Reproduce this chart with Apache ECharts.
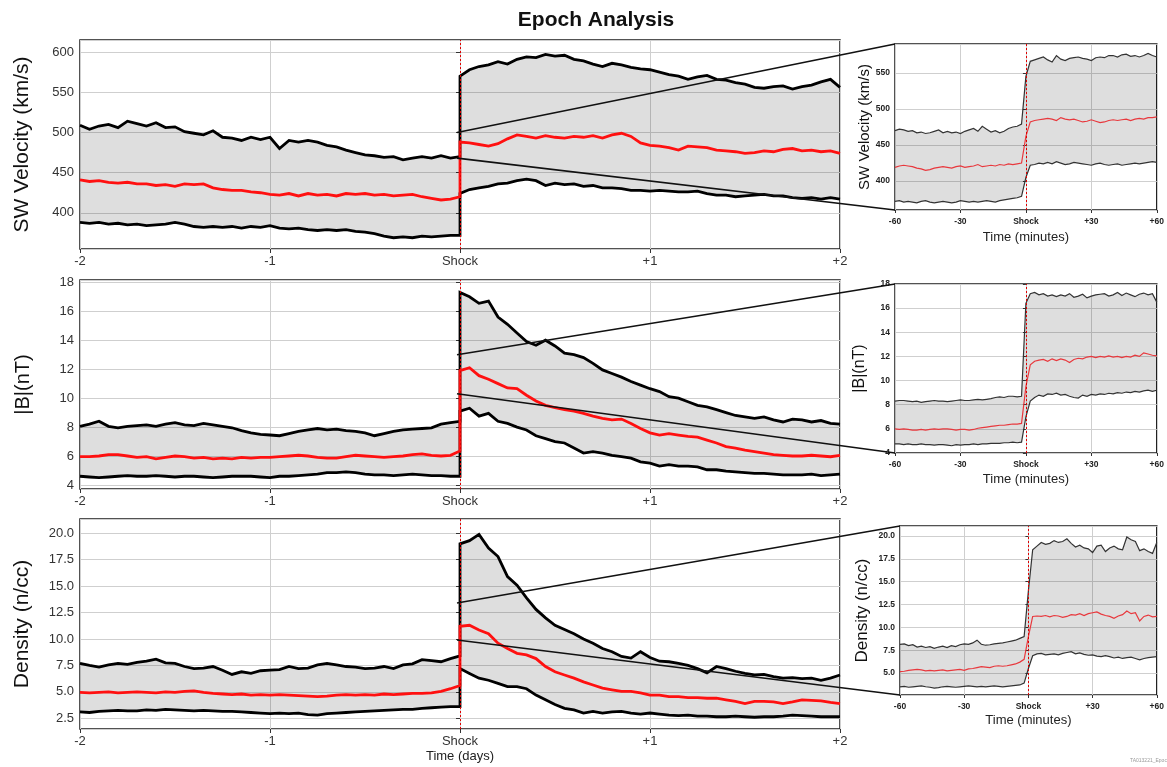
<!DOCTYPE html>
<html>
<head>
<meta charset="utf-8">
<script src="https://cdn.jsdelivr.net/npm/echarts@6/dist/echarts.min.js"></script>
<style>
html,body{margin:0;padding:0;background:#fff;}
#c{width:1167px;height:767px;}
</style>
</head>
<body>
<div id="c"></div>
<script>
// ---------------- DATA ----------------
// Main panels: days from -2 to 0 (pre) and 0 to +2 (post), step 0.05 day
const dayTickLabels = ['-2', '-1', 'Shock', '+1', '+2'];
const minuteTickLabels = ['-60', '-30', 'Shock', '+30', '+60'];

const velUpperPre = [509,504,508,510,506,514,511,508,512,506,507,501,499,497,502,494,493,490,494,491,494,480,490,488,490,488,484,482,478,475,472,471,469,470,466,468,470,468,471,468,470];
const velMedianPre = [441,439,440,438,437,438,436,436,434,435,433,436,435,436,431,429,428,428,426,425,423,422,424,421,424,422,423,421,424,423,424,422,423,421,422,423,420,418,416,417,420];
const velLowerPre = [388,387,388,386,387,385,386,384,385,386,388,386,383,382,383,382,383,381,383,382,384,381,380,381,379,378,379,378,379,377,376,374,371,369,370,369,371,370,371,372,372];
const velUpperPost = [570,578,582,584,588,585,591,594,593,597,595,596,591,589,585,582,586,584,581,579,578,575,572,570,566,569,571,566,565,562,560,556,555,557,558,554,557,559,563,566,556];
const velMedianPost = [488,487,485,483,486,492,497,495,493,496,494,493,495,494,496,493,497,499,495,487,484,483,481,478,483,482,481,478,477,476,474,475,477,476,479,480,477,478,476,477,474];
const velLowerPost = [424,429,431,433,436,437,440,442,440,434,437,435,436,433,434,431,431,430,428,428,427,428,427,426,426,427,424,422,422,420,421,422,423,421,421,419,418,419,417,419,417];

const bUpperPre = [8.05,8.2,8.4,8.05,7.95,8.05,8.1,8.15,8.05,8.2,8.3,8.15,8.1,8.25,8.15,8.05,7.95,7.75,7.6,7.5,7.45,7.4,7.55,7.7,7.8,7.9,7.8,7.85,7.75,7.7,7.6,7.4,7.55,7.7,7.8,7.85,7.9,7.95,8.2,8.3,8.4];
const bMedianPre = [5.95,5.95,6.0,6.1,6.1,6.0,5.9,5.95,5.8,5.9,6.0,5.95,5.85,5.9,5.8,5.85,5.8,5.9,5.85,5.9,5.9,5.95,6.0,6.05,6.0,5.9,5.85,5.85,5.95,6.05,6.0,5.95,5.9,5.95,6.0,6.1,6.15,6.05,6.0,6.05,6.35];
const bLowerPre = [4.6,4.55,4.5,4.55,4.6,4.65,4.6,4.6,4.65,4.6,4.55,4.6,4.6,4.55,4.5,4.55,4.6,4.6,4.6,4.55,4.5,4.6,4.6,4.65,4.7,4.75,4.85,4.85,4.9,4.85,4.75,4.7,4.7,4.65,4.7,4.75,4.7,4.65,4.65,4.6,4.6];
const bUpperPost = [17.3,17.0,16.55,16.7,15.6,15.1,14.5,13.9,13.65,14.0,13.6,13.1,13.0,12.8,12.4,11.95,11.7,11.45,11.15,10.9,10.65,10.45,10.1,10.0,9.75,9.5,9.4,9.2,9.0,8.8,8.7,8.6,8.7,8.5,8.35,8.55,8.5,8.35,8.45,8.25,8.2];
const bMedianPost = [11.9,12.1,11.55,11.3,11.0,10.7,10.65,10.2,9.8,9.5,9.35,9.2,9.1,8.95,8.75,8.6,8.5,8.55,8.25,7.9,7.6,7.45,7.55,7.45,7.35,7.3,7.1,6.9,6.65,6.55,6.4,6.3,6.2,6.1,6.05,6.0,6.0,6.05,6.0,5.95,6.05];
const bLowerPost = [9.1,9.3,8.75,8.95,8.4,8.25,8.0,7.8,7.4,7.2,7.0,6.9,6.55,6.2,6.3,6.2,6.05,5.95,5.85,5.6,5.5,5.3,5.4,5.3,5.3,5.25,5.05,5.05,4.95,4.9,4.85,4.8,4.8,4.75,4.7,4.7,4.7,4.75,4.65,4.7,4.75];

const nUpperPre = [7.7,7.5,7.35,7.55,7.7,7.6,7.8,7.9,8.1,7.75,7.7,7.4,7.2,7.25,7.4,7.05,6.65,6.9,6.75,7.0,7.05,7.1,7.4,7.2,7.25,7.55,7.7,7.55,7.4,7.35,7.2,7.25,7.4,7.2,7.55,7.65,8.05,7.95,7.85,8.15,8.4];
const nMedianPre = [4.95,4.9,4.95,5.0,4.9,4.95,5.0,4.95,4.9,5.0,4.95,5.05,5.1,4.95,4.85,4.8,4.75,4.8,4.7,4.75,4.7,4.75,4.7,4.65,4.6,4.55,4.6,4.7,4.75,4.7,4.75,4.7,4.8,4.75,4.8,4.85,4.85,4.9,5.05,5.3,5.6];
const nLowerPre = [3.1,3.05,3.15,3.2,3.25,3.2,3.2,3.3,3.25,3.35,3.3,3.25,3.2,3.25,3.2,3.15,3.15,3.1,3.05,3.0,2.95,3.0,2.95,3.0,2.85,2.8,2.95,3.0,3.05,3.1,3.15,3.2,3.25,3.3,3.35,3.35,3.45,3.5,3.55,3.6,3.6];
const nUpperPost = [19.0,19.3,19.9,18.6,17.8,15.9,15.1,13.9,12.8,12.0,11.3,10.9,10.5,10.0,9.6,9.1,8.8,8.35,8.2,8.8,8.25,7.9,7.85,7.7,7.5,7.2,6.8,7.4,7.2,6.95,6.75,6.6,6.65,6.45,6.3,6.35,6.25,6.3,6.1,6.3,6.6];
const nMedianPost = [11.2,11.3,10.85,10.5,9.6,9.1,8.65,8.5,8.15,7.4,6.9,6.6,6.3,5.95,5.65,5.35,5.2,5.05,5.05,4.9,4.7,4.7,4.55,4.55,4.45,4.45,4.4,4.4,4.25,4.1,3.9,4.1,4.1,4.05,3.9,4.05,4.25,4.2,4.15,4.0,3.9];
const nLowerPost = [7.2,6.75,6.3,6.1,5.8,5.5,5.5,5.3,4.7,4.25,3.8,3.45,3.3,3.0,3.15,3.0,3.1,3.15,3.0,2.9,3.0,2.9,2.8,2.75,2.8,2.7,2.7,2.65,2.65,2.7,2.65,2.6,2.65,2.65,2.7,2.8,2.75,2.7,2.65,2.65,2.65];

// Insets: minutes -60..-2 (pre, step 2) and 0..60 (post, step 2)
const iVelUpperPre = [470,472,471,469,470,467,468,466,467,469,471,467,469,467,468,466,469,471,473,469,476,472,468,470,467,469,473,475,476,479];
const iVelUpperPost = [545,566,568,570,572,568,565,574,569,567,570,571,572,570,569,567,571,572,571,574,574,572,575,576,573,574,572,574,577,574,572];
const iVelMedianPre = [419,421,422,421,420,418,417,415,416,418,419,420,419,418,420,421,419,420,421,423,420,421,422,421,423,422,424,423,424,425];
const iVelMedianPost = [462,482,484,485,486,487,486,484,488,486,485,486,484,482,483,485,483,481,482,484,485,484,485,486,484,486,487,486,488,488,489];
const iVelLowerPre = [372,373,371,372,371,370,372,373,371,370,371,372,371,370,371,373,372,371,372,371,372,373,372,371,373,374,375,376,377,379];
const iVelLowerPost = [405,422,423,425,424,426,424,427,425,423,424,426,425,424,423,422,424,425,423,422,423,424,422,423,424,425,424,425,426,427,426];

const iBUpperPre = [8.3,8.35,8.35,8.3,8.25,8.3,8.2,8.25,8.3,8.35,8.3,8.3,8.25,8.3,8.35,8.4,8.35,8.35,8.4,8.45,8.4,8.45,8.5,8.6,8.65,8.6,8.7,8.7,8.65,8.7];
const iBUpperPost = [16.4,17.2,17.3,17.1,17.2,17.0,17.1,16.95,17.1,17.0,17.2,16.9,17.0,17.15,16.85,17.0,17.1,17.15,17.2,17.0,17.1,17.3,17.05,17.25,17.1,16.95,17.15,17.25,17.1,17.2,16.5];
const iBMedianPre = [6.0,5.95,6.0,5.95,5.9,5.9,5.95,5.9,5.95,6.0,5.95,6.0,6.0,5.95,5.9,5.95,5.95,5.9,5.95,6.05,6.1,6.15,6.2,6.25,6.3,6.3,6.35,6.4,6.4,6.45];
const iBMedianPost = [9.5,11.3,11.6,11.7,11.75,11.6,11.8,11.65,11.8,11.7,11.5,11.75,11.85,11.8,11.95,12.0,11.9,12.0,11.95,12.05,11.95,12.0,11.9,12.0,11.95,12.1,12.0,12.3,12.2,12.1,12.05];
const iBLowerPre = [4.75,4.75,4.7,4.75,4.7,4.7,4.75,4.7,4.7,4.65,4.7,4.7,4.65,4.6,4.7,4.65,4.7,4.7,4.75,4.7,4.75,4.75,4.8,4.8,4.8,4.85,4.85,4.9,4.85,4.9];
const iBLowerPost = [7.0,8.3,8.6,8.8,8.7,8.9,8.85,8.95,8.8,8.85,8.7,8.6,8.55,8.8,8.7,8.85,8.8,8.9,8.85,8.95,8.9,9.0,8.95,9.05,9.0,9.1,9.05,9.15,9.2,9.1,9.2];

const iNUpperPre = [8.15,8.2,8.0,8.1,7.85,7.95,7.8,7.9,7.7,7.85,7.95,7.8,8.0,7.9,8.1,8.2,8.15,8.3,8.6,8.15,8.05,8.1,8.2,8.25,8.3,8.4,8.5,8.6,8.8,9.0];
const iNUpperPost = [14.0,18.5,18.9,19.3,19.1,19.2,19.5,19.3,19.4,19.7,19.2,18.8,19.0,18.7,18.6,18.2,18.9,19.0,18.3,18.7,18.9,18.6,18.5,19.9,19.6,19.4,18.4,18.6,18.3,18.1,19.3];
const iNMedianPre = [5.15,5.2,5.3,5.35,5.4,5.35,5.25,5.3,5.25,5.3,5.35,5.25,5.3,5.35,5.4,5.3,5.45,5.5,5.6,5.7,5.65,5.6,5.75,5.8,5.75,5.8,5.9,6.0,6.2,6.5];
const iNMedianPost = [9.0,11.2,11.25,11.2,11.3,11.15,11.3,11.25,11.1,11.2,11.4,11.35,11.5,11.3,11.5,11.6,11.7,11.45,11.3,11.2,11.0,11.25,11.4,11.8,11.5,11.6,10.7,11.2,11.35,11.15,11.2];
const iNLowerPre = [3.5,3.55,3.45,3.5,3.55,3.6,3.5,3.45,3.35,3.4,3.5,3.55,3.5,3.45,3.5,3.55,3.6,3.55,3.5,3.55,3.5,3.55,3.6,3.55,3.5,3.55,3.6,3.65,3.7,3.9];
const iNLowerPost = [5.5,6.9,7.1,7.15,7.0,7.05,7.1,7.0,7.15,7.25,7.35,7.1,7.2,7.05,6.95,7.0,6.85,6.8,6.9,6.8,6.65,6.75,6.6,6.7,6.75,6.6,6.45,6.6,6.7,6.75,6.8];

// Zoom connector anchor values on the main panels (at Shock)
const velLinkValues = [500, 468];
const bLinkValues = [13.0, 10.3];
const nLinkValues = [13.4, 9.9];

// ---------------- BUILD ----------------
const FONT = '"Liberation Sans", Arial, Helvetica, sans-serif';
const dayPreX = velUpperPre.map((_, i) => -2 + i * 0.05);
const dayPostX = velUpperPost.map((_, i) => i * 0.05);
const minPreX = iVelUpperPre.map((_, i) => -60 + i * 2);
const minPostX = iVelUpperPost.map((_, i) => i * 2);
const dayX = dayPreX.concat(dayPostX);
const minX = minPreX.concat(minPostX);

const panels = [
  {xs: dayX, up: velUpperPre.concat(velUpperPost), md: velMedianPre.concat(velMedianPost), lo: velLowerPre.concat(velLowerPost), main: true},
  {xs: dayX, up: bUpperPre.concat(bUpperPost), md: bMedianPre.concat(bMedianPost), lo: bLowerPre.concat(bLowerPost), main: true},
  {xs: dayX, up: nUpperPre.concat(nUpperPost), md: nMedianPre.concat(nMedianPost), lo: nLowerPre.concat(nLowerPost), main: true},
  {xs: minX, up: iVelUpperPre.concat(iVelUpperPost), md: iVelMedianPre.concat(iVelMedianPost), lo: iVelLowerPre.concat(iVelLowerPost), main: false},
  {xs: minX, up: iBUpperPre.concat(iBUpperPost), md: iBMedianPre.concat(iBMedianPost), lo: iBLowerPre.concat(iBLowerPost), main: false},
  {xs: minX, up: iNUpperPre.concat(iNUpperPost), md: iNMedianPre.concat(iNMedianPost), lo: iNLowerPre.concat(iNLowerPost), main: false}
];

const grids = [
  {left: 80, top: 40, width: 760, height: 209},
  {left: 80, top: 280, width: 760, height: 209},
  {left: 80, top: 519, width: 760, height: 210},
  {left: 895, top: 44, width: 263, height: 166},
  {left: 895, top: 284, width: 267, height: 169},
  {left: 900, top: 526, width: 265, height: 169}
].map(g => Object.assign({show: true, borderColor: '#1a1a1a', borderWidth: 1.5, backgroundColor: 'transparent'}, g));

const yRanges = [
  {min: 355, max: 615, step: 50, name: 'SW Velocity (km/s)', fs: 21, gap: 47, dec: 0},
  {min: 3.72, max: 18.16, step: 2, name: '|B|(nT)', fs: 20, gap: 47, dec: 0},
  {min: 1.49, max: 21.35, step: 2.5, name: 'Density (n/cc)', fs: 21, gap: 47, dec: 1},
  {min: 360, max: 590, step: 50, name: 'SW Velocity (km/s)', fs: 15, gap: 22, dec: 0},
  {min: 4, max: 18, step: 2, name: '|B|(nT)', fs: 16, gap: 27, dec: 0, showEnds: true},
  {min: 2.6, max: 21.1, step: 2.5, name: 'Density (n/cc)', fs: 17, gap: 29, dec: 1}
];

function dayLabel(v) { return dayTickLabels[Math.round(v) + 2]; }
function minLabel(v) { return minuteTickLabels[Math.round(v / 30) + 2]; }

const xAxes = grids.map((g, i) => {
  const main = i < 3;
  const ax = {
    type: 'value', gridIndex: i,
    min: main ? -2 : -60, max: main ? 2 : 60, interval: main ? 1 : 30,
    axisLine: {show: false},
    axisTick: {show: true, length: main ? 4 : 3, lineStyle: {color: '#333'}},
    splitLine: {show: true, lineStyle: {color: '#cfcfcf', width: 1}},
    axisLabel: {
      formatter: main ? dayLabel : minLabel,
      color: main ? '#333' : '#222',
      fontSize: main ? 13 : 8.5,
      fontWeight: main ? 'normal' : 'bold',
      fontFamily: FONT,
      margin: main ? 6 : 7
    }
  };
  if (i === 2) {
    Object.assign(ax, {name: 'Time (days)', nameLocation: 'middle', nameGap: 21,
      nameTextStyle: {fontSize: 13, color: '#222', fontFamily: FONT}});
  }
  if (!main) {
    Object.assign(ax, {name: 'Time (minutes)', nameLocation: 'middle', nameGap: [21, 20, 19][i - 3],
      nameTextStyle: {fontSize: 13, color: '#222', fontFamily: FONT}});
  }
  return ax;
});

const yAxes = yRanges.map((r, i) => {
  const main = i < 3;
  return {
    type: 'value', gridIndex: i,
    min: r.min, max: r.max, minInterval: r.step, maxInterval: r.step,
    axisLine: {show: false},
    axisTick: {show: true, length: main ? 4 : 3, lineStyle: {color: '#333'}},
    splitLine: {show: true, lineStyle: {color: '#cfcfcf', width: 1}},
    axisLabel: {
      showMinLabel: !!r.showEnds, showMaxLabel: !!r.showEnds,
      formatter: v => v.toFixed(r.dec),
      color: main ? '#333' : '#222',
      fontSize: main ? 13 : 8.5,
      fontWeight: main ? 'normal' : 'bold',
      fontFamily: FONT,
      margin: main ? 6 : 5
    },
    name: r.name, nameLocation: 'middle', nameGap: r.gap,
    nameTextStyle: {fontSize: r.fs, color: '#111', fontFamily: FONT}
  };
});

const series = [];
panels.forEach((p, gi) => {
  const main = p.main;
  // grey band between upper and lower curves
  series.push({
    type: 'custom', xAxisIndex: gi, yAxisIndex: gi, silent: true, z: 1, clip: true,
    data: [[p.xs[0], p.lo[0]]],
    renderItem: function (params, api) {
      const pts = [];
      for (let k = 0; k < p.xs.length; k++) pts.push(api.coord([p.xs[k], p.up[k]]));
      for (let k = p.xs.length - 1; k >= 0; k--) pts.push(api.coord([p.xs[k], p.lo[k]]));
      return {type: 'polygon', shape: {points: pts}, style: {fill: 'rgba(0,0,0,0.13)', stroke: null}};
    }
  });
  const blk = main ? '#000000' : '#333333';
  const red = main ? '#ff1010' : '#e8383d';
  const w = main ? 2.8 : 1.2;
  [[p.up, blk], [p.lo, blk], [p.md, red]].forEach(([ys, col], k) => {
    const s = {
      type: 'line', xAxisIndex: gi, yAxisIndex: gi, silent: true, z: 3,
      data: p.xs.map((x, j) => [x, ys[j]]),
      showSymbol: false, symbol: 'none',
      lineStyle: {color: col, width: w, join: 'miter'}, itemStyle: {color: col}
    };
    if (k === 2) {
      s.markLine = {
        silent: true, symbol: ['none', 'none'], label: {show: false},
        lineStyle: {color: '#e00000', type: [2, 2], width: 1},
        data: [{xAxis: 0}]
      };
    }
    series.push(s);
  });
});

const chart = echarts.init(document.getElementById('c'), null, {renderer: 'canvas'});
chart.setOption({
  animation: false,
  backgroundColor: '#ffffff',
  title: {
    text: 'Epoch Analysis', left: 591, top: 5, textAlign: 'center',
    textStyle: {fontSize: 21, fontWeight: 'bold', color: '#111', fontFamily: FONT}
  },
  grid: grids,
  xAxis: xAxes,
  yAxis: yAxes,
  series: series,
  graphic: [{
    id: 'stamp', type: 'text', left: 1130, top: 758, silent: true,
    style: {text: 'TA013221_Epoch', fontSize: 5, fill: '#9a9a9a', fontFamily: FONT}
  }]
});

// Zoom connector lines from the Shock point on each main panel to the inset corners
const links = [
  {g: 0, ig: 3, vals: velLinkValues},
  {g: 1, ig: 4, vals: bLinkValues},
  {g: 2, ig: 5, vals: nLinkValues}
];
const lineGraphics = [];
links.forEach((L, n) => {
  const yr = yRanges[L.ig];
  const ends = [yr.max, yr.min];
  L.vals.forEach((v, k) => {
    const a = chart.convertToPixel({xAxisIndex: L.g, yAxisIndex: L.g}, [0, v]);
    const b = chart.convertToPixel({xAxisIndex: L.ig, yAxisIndex: L.ig}, [-60, ends[k]]);
    lineGraphics.push({
      id: 'link' + n + '_' + k, type: 'line', silent: true, z: 100,
      shape: {x1: a[0] - 3, y1: a[1], x2: b[0], y2: b[1]},
      style: {stroke: '#111', lineWidth: 1.6}
    });
  });
});
chart.setOption({graphic: lineGraphics});
</script>
</body>
</html>
